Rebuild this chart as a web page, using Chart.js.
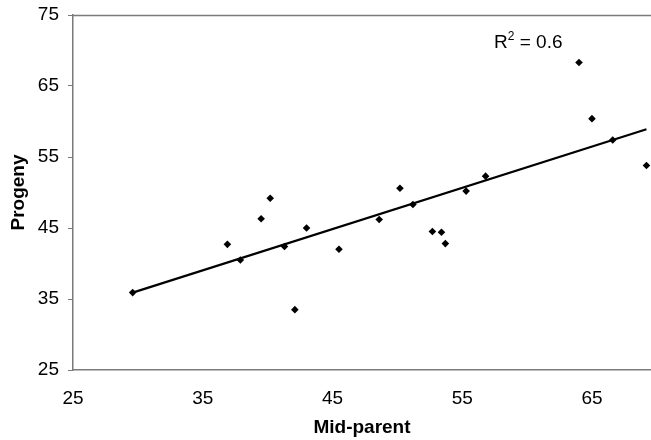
<!DOCTYPE html>
<html>
<head>
<meta charset="utf-8">
<script src="https://cdn.jsdelivr.net/npm/chart.js@4"></script>
<style>
  html, body { margin: 0; padding: 0; background: #fff; overflow: hidden; }
  #wrap { width: 651px; height: 440px; }
</style>
</head>
<body>
<div id="wrap"><canvas id="chart"></canvas></div>
<script>
// values
const midParent = [29.6, 36.9, 37.9, 39.5, 40.2, 41.3, 43.0, 42.1, 45.5, 48.6, 50.2,
                   51.2, 52.7, 53.4, 53.7, 55.3, 56.8, 64.0, 65.0, 66.6, 69.2];
const progeny   = [35.9, 42.7, 40.5, 46.3, 49.2, 42.4, 45.0, 33.5, 42.0, 46.2, 50.6,
                   48.3, 44.5, 44.4, 42.8, 50.2, 52.3, 68.3, 60.4, 57.4, 53.8];
const trendX = [29.6, 69.2];
const trendY = [35.9, 58.9];
const xTicks = [25, 35, 45, 55, 65];
const yTicks = [25, 35, 45, 55, 65, 75];
const rSquared = '0.6';

const axisColor = '#7a7a7a';
const tickFont = { family: 'Liberation Sans, Arial, sans-serif', size: 19 };
const titleFont = { family: 'Liberation Sans, Arial, sans-serif', size: 19, weight: 'bold' };

const extras = {
	id: 'extras',
	afterDraw(chart) {
		const { ctx, chartArea, scales } = chart;
		// top frame line
		ctx.save();
		ctx.strokeStyle = axisColor;
		ctx.lineWidth = 1.5;
		ctx.beginPath();
		ctx.moveTo(chartArea.left, chartArea.top + 0.5);
		ctx.lineTo(chartArea.right, chartArea.top + 0.5);
		ctx.stroke();

		// R² label
		const x = scales.x.getPixelForValue(57.45);
		const y = scales.y.getPixelForValue(70.3);
		ctx.fillStyle = '#000';
		ctx.textBaseline = 'alphabetic';
		ctx.textAlign = 'left';
		ctx.font = '19px Liberation Sans, Arial, sans-serif';
		ctx.fillText('R', x, y);
		let w = ctx.measureText('R').width;
		ctx.font = '12px Liberation Sans, Arial, sans-serif';
		ctx.fillText('2', x + w, y - 8);
		w += ctx.measureText('2').width;
		ctx.font = '19px Liberation Sans, Arial, sans-serif';
		ctx.fillText(' = ' + rSquared, x + w, y);
		ctx.restore();
	}
};

new Chart(document.getElementById('chart'), {
	type: 'scatter',
	data: {
		datasets: [
			{
				data: midParent.map((v, i) => ({ x: v, y: progeny[i] })),
				pointStyle: 'rectRot',
				pointRadius: 3.8,
				backgroundColor: '#000',
				borderColor: '#000',
				borderWidth: 0,
				clip: false
			},
			{
				type: 'line',
				data: trendX.map((v, i) => ({ x: v, y: trendY[i] })),
				borderColor: '#000',
				borderWidth: 2.2,
				pointRadius: 0,
				fill: false
			}
		]
	},
	plugins: [extras],
	options: {
		responsive: true,
		maintainAspectRatio: false,
		animation: false,
		layout: { autoPadding: false, padding: { top: 15, right: 0, left: 0, bottom: 0 } },
		plugins: { legend: { display: false }, tooltip: { enabled: false } },
		scales: {
			x: {
				type: 'linear',
				min: 25,
				max: 69.55,
				afterBuildTicks: s => { s.ticks = xTicks.map(v => ({ value: v })); },
				afterFit: s => { s.height = 70; s.paddingLeft = 0; s.paddingRight = 0; },
				grid: { display: false, drawOnChartArea: false, drawTicks: true, tickLength: 5, color: axisColor },
				border: { color: axisColor, width: 1.5 },
				ticks: { color: '#000', font: tickFont, padding: 12, maxRotation: 0 },
				title: { display: true, text: 'Mid-parent', color: '#000', font: titleFont, padding: { top: 0, bottom: 1 } }
			},
			y: {
				min: 25,
				max: 75,
				afterBuildTicks: s => { s.ticks = yTicks.map(v => ({ value: v })); },
				afterFit: s => { s.width = 73; s.paddingTop = 0; s.paddingBottom = 0; },
				grid: { display: true, drawOnChartArea: false, drawTicks: true, tickLength: 5, color: axisColor },
				border: { color: axisColor, width: 1.5 },
				ticks: { color: '#000', font: tickFont, padding: 9 },
				title: { display: true, text: 'Progeny', color: '#000', font: titleFont, padding: { top: 7, bottom: 0 } }
			}
		}
	}
});
</script>
</body>
</html>
